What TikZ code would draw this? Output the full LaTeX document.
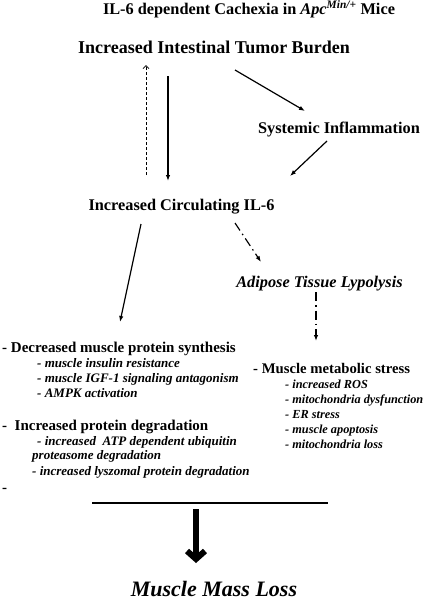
\documentclass[tikz,border=0pt]{standalone}
\usepackage{fontspec}
\setmainfont{Liberation Serif}
\usetikzlibrary{arrows.meta,calc}
\tikzset{
  txt/.style={inner sep=0pt, anchor=base, font=\bfseries\fontsize{16.3}{18}\selectfont},
  head/.style={txt, font=\bfseries\fontsize{18}{20}\selectfont},
  ltxt/.style={inner sep=0pt, anchor=base west, font=\bfseries\fontsize{15}{17}\selectfont},
  sub/.style={inner sep=0pt, anchor=base west, font=\bfseries\itshape\fontsize{13}{15}\selectfont},
  rsub/.style={inner sep=0pt, anchor=base west, font=\bfseries\itshape\fontsize{12.3}{14}\selectfont},
  arr/.style={line width=1.2pt, -{Latex[length=6pt,width=4.5pt]}},
  dasharr/.style={line width=0.8pt, dashed, dash pattern=on 3pt off 2pt, -{Straight Barb[length=3pt,width=6pt]}},
  dotarr/.style={line width=1.2pt, dash pattern=on 9pt off 4pt on 1.5pt off 4pt, -{Latex[length=6pt,width=4.5pt]}},
  bigarr/.style={line width=6pt, -{Straight Barb[length=8pt,width=18pt]}}
}
\begin{document}
\begin{tikzpicture}[x=1pt,y=-1pt]
\useasboundingbox[fill=white] (0,0) rectangle (428,600);
\node[txt] (title) at (249,14.5) {IL-6 dependent Cachexia in \textit{Apc}\textsuperscript{\textit{Min/+}} Mice};
\node[head] (tumor) at (214,53) {Increased Intestinal Tumor Burden};
\node[txt] (sys) at (339,133) {Systemic Inflammation};
\node[txt] (il6) at (181.5,210) {Increased Circulating IL-6};
\node[txt, font=\bfseries\itshape\fontsize{16.3}{18}\selectfont] (adi) at (319.5,287) {Adipose Tissue Lypolysis};
% left block
\node[ltxt] (dec) at (2,352) {- Decreased muscle protein synthesis};
\node[sub] (d1) at (37,367) {- muscle insulin resistance};
\node[sub] (d2) at (37,382) {- muscle IGF-1 signaling antagonism};
\node[sub] (d3) at (37,397) {- AMPK activation};
\node[ltxt] (inc) at (2,430) {-\ \ Increased protein degradation};
\node[sub] (i1) at (37,445) {- increased\ \ ATP dependent ubiquitin};
\node[sub] (i2) at (32,459) {proteasome degradation};
\node[sub] (i3) at (32,475) {- increased lyszomal protein degradation};
\node[ltxt] (dash) at (2,492) {-};
% right block
\node[ltxt, font=\bfseries\fontsize{14.7}{17}\selectfont] (mms) at (253,373) {- Muscle metabolic stress};
\node[rsub] (m1) at (285,388) {- increased ROS};
\node[rsub] (m2) at (285,403) {- mitochondria dysfunction};
\node[rsub] (m3) at (285,418) {- ER stress};
\node[rsub] (m4) at (285,433) {- muscle apoptosis};
\node[rsub] (m5) at (285,448) {- mitochondria loss};
\node[inner sep=0pt, anchor=base, font=\bfseries\itshape\fontsize{22}{24}\selectfont] (mml) at (214,596.5) {Muscle Mass Loss};
% connectors
\draw[dasharr] ($(il6.base)+(-35.5,-35)$) -- ($(tumor.base)+(-68,12)$);
\draw[arr] ($(tumor.base)+(-46,23)$) -- ($(il6.base)+(-13.5,-29)$);
\draw[arr] ($(tumor.base)+(21,17)$) -- ($(sys.base)+(-34,-22)$);
\draw[arr] ($(sys.base)+(-12,8)$) -- ($(il6.base)+(108.5,-34)$);
\draw[arr] ($(il6.base)+(-40.5,14)$) -- ($(dec.base west)+(118,-30)$);
\draw[dotarr] ($(il6.base)+(53.5,13)$) -- ($(adi.base)+(-58.5,-25)$);
\draw[dotarr] ($(adi.base)+(-3.5,5)$) -- ($(mms.base west)+(63,-32)$);
\coordinate (hl1) at (92,503);
\coordinate (hl2) at (328,503);
\draw[line width=1.5pt] (hl1) -- (hl2);
\draw[bigarr] (196,509) -- ($(mml.base)+(-18,-33.5)$);
\end{tikzpicture}
\end{document}
